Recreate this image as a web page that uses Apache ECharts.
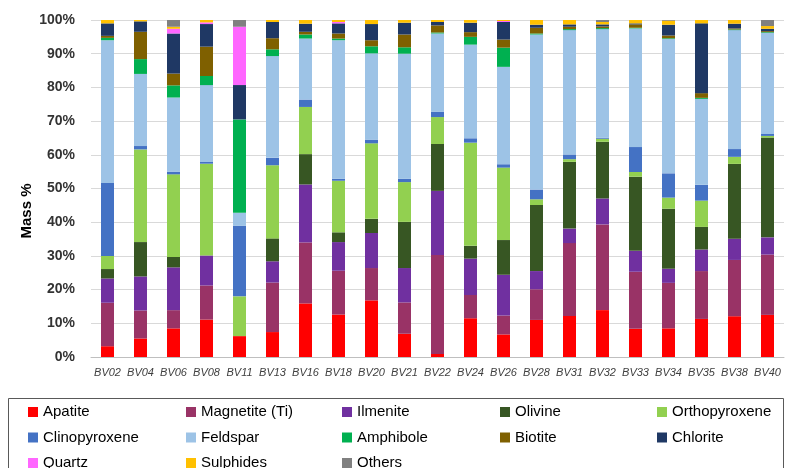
<!DOCTYPE html>
<html>
<head>
<meta charset="utf-8">
<script src="https://cdn.jsdelivr.net/npm/echarts@6/dist/echarts.min.js"></script>
<style>
  html, body { margin: 0; padding: 0; background: #fff; }
  #chart { width: 789px; height: 468px; }
</style>
</head>
<body>
<div id="chart"></div>
<script>
// Sample names
const samples = ['BV02','BV04','BV06','BV08','BV11','BV13','BV16','BV18','BV20','BV21','BV22',
                 'BV24','BV26','BV28','BV31','BV32','BV33','BV34','BV35','BV38','BV40'];

// Mass % per mineral, one value per sample
const apatite    = [3.2, 5.5, 8.5, 11.1, 6.2, 7.4, 15.9, 12.6, 16.8, 6.9, 0.9, 11.5, 6.7, 11.0, 12.2, 13.9, 8.4, 8.5, 11.3, 12.1, 12.5];
const magnetite  = [12.9, 8.3, 5.4, 10.1, 0, 14.7, 18.1, 13.0, 9.6, 9.3, 29.4, 6.9, 5.6, 9.1, 21.6, 25.4, 16.9, 13.5, 14.2, 16.7, 17.9];
const ilmenite   = [7.2, 10.1, 12.7, 8.9, 0, 6.3, 17.2, 8.5, 10.4, 10.2, 19.0, 10.8, 12.1, 5.4, 4.3, 7.7, 6.2, 4.2, 6.4, 6.3, 5.1];
const olivine    = [2.8, 10.2, 3.1, 0, 0, 6.8, 9.0, 2.9, 4.2, 13.7, 13.9, 3.8, 10.3, 19.6, 19.8, 16.8, 22.0, 17.8, 6.7, 22.2, 29.6];
const orthopyrox = [3.9, 27.5, 24.5, 27.2, 11.8, 21.7, 14.0, 15.3, 22.4, 11.8, 8.0, 30.6, 21.5, 1.7, 0.8, 0.9, 1.4, 3.3, 7.8, 2.1, 0.5];
const clinopyrox = [21.6, 1.0, 0.8, 0.5, 20.9, 2.2, 2.2, 0.6, 1.1, 1.0, 1.6, 1.3, 1.0, 2.9, 1.4, 0.3, 7.4, 7.2, 4.7, 2.3, 0.6];
const feldspar   = [42.4, 21.4, 22.0, 22.8, 3.9, 30.2, 18.1, 41.1, 25.6, 37.1, 23.2, 27.8, 28.9, 46.0, 36.9, 32.2, 35.2, 39.9, 25.5, 35.3, 30.0];
const amphibole  = [0.7, 4.4, 3.6, 2.7, 27.7, 2.0, 1.2, 0.5, 2.1, 1.9, 0.3, 2.3, 5.7, 0.3, 0.3, 0.3, 0.2, 0.2, 0.3, 0.2, 0.2];
const biotite    = [0.6, 8.1, 3.5, 8.7, 0, 3.3, 0.8, 1.5, 1.8, 3.8, 2.1, 1.4, 2.4, 1.7, 0.7, 0.5, 1.0, 0.8, 1.4, 0.3, 0.3];
const chlorite   = [3.7, 3.1, 11.9, 6.7, 10.2, 4.8, 2.4, 3.0, 4.8, 3.5, 1.0, 2.8, 5.2, 0.9, 0.7, 0.6, 0.3, 3.2, 20.7, 1.4, 0.7];
const quartz     = [0, 0, 1.4, 0.5, 17.3, 0, 0, 0.4, 0, 0, 0, 0, 0.3, 0, 0, 0, 0, 0, 0, 0, 0];
const sulphides  = [1.0, 0.4, 0.6, 0.7, 0, 0.6, 1.1, 0.6, 1.2, 0.8, 0.6, 0.8, 0.3, 1.4, 1.3, 0.7, 1.0, 1.2, 1.0, 1.1, 0.8];
const others     = [0, 0, 2.0, 0, 2.0, 0, 0, 0, 0, 0, 0, 0, 0, 0, 0, 0.6, 0, 0.2, 0, 0, 1.8];

const yTicks = [0, 10, 20, 30, 40, 50, 60, 70, 80, 90, 100];

const minerals = [
  { name: 'Apatite',        data: apatite,    color: '#FF0000' },
  { name: 'Magnetite (Ti)', data: magnetite,  color: '#993366' },
  { name: 'Ilmenite',       data: ilmenite,   color: '#7030A0' },
  { name: 'Olivine',        data: olivine,    color: '#375623' },
  { name: 'Orthopyroxene',  data: orthopyrox, color: '#92D050' },
  { name: 'Clinopyroxene',  data: clinopyrox, color: '#4472C4' },
  { name: 'Feldspar',       data: feldspar,   color: '#9DC3E6' },
  { name: 'Amphibole',      data: amphibole,  color: '#00B050' },
  { name: 'Biotite',        data: biotite,    color: '#7F6000' },
  { name: 'Chlorite',       data: chlorite,   color: '#1F3864' },
  { name: 'Quartz',         data: quartz,     color: '#FF66FF' },
  { name: 'Sulphides',      data: sulphides,  color: '#FFC000' },
  { name: 'Others',         data: others,     color: '#808080' }
];

// 100% stacking: scale each sample so its column sums to 100
const totals = samples.map((_, i) => minerals.reduce((s, m) => s + m.data[i], 0));

const series = minerals.map(m => ({
  name: m.name,
  type: 'bar',
  stack: 'mass',
  barWidth: 13,
  itemStyle: { color: m.color },
  emphasis: { disabled: true },
  data: m.data.map((v, i) => v / totals[i] * 100)
}));

// Legend laid out as a 5-column table inside a framed box: one legend per entry
const legendFont = { fontFamily: 'Liberation Sans', fontSize: 15, lineHeight: 16, color: '#000' };
const colX = [28, 186, 342, 500, 657];
const rowY = [412, 437.5, 463];
const legends = minerals.map((m, k) => ({
  left: colX[k % 5],
  top: rowY[Math.floor(k / 5)] - 8,
  padding: 0,
  itemWidth: 10,
  itemHeight: 10,
  itemGap: 4,
  icon: 'rect',
  selectedMode: false,
  textStyle: legendFont,
  data: [m.name]
}));

const chart = echarts.init(document.getElementById('chart'), null, { renderer: 'canvas' });
chart.setOption({
  animation: false,
  backgroundColor: '#fff',
  grid: { left: 91, right: 5, top: 20, bottom: 111, containLabel: false },
  xAxis: {
    type: 'category',
    data: samples,
    axisTick: { show: false },
    axisLine: { lineStyle: { color: '#bfbfbf', width: 1 } },
    axisLabel: {
      margin: 10,
      fontFamily: 'Liberation Sans',
      fontStyle: 'italic',
      fontSize: 11,
      color: '#404040',
      interval: 0
    }
  },
  yAxis: {
    type: 'value',
    min: yTicks[0],
    max: yTicks[yTicks.length - 1],
    interval: yTicks[1] - yTicks[0],
    axisLine: { show: false },
    axisTick: { show: false },
    splitLine: { lineStyle: { color: '#d9d9d9', width: 1 } },
    axisLabel: {
      margin: 16,
      formatter: '{value}%',
      fontFamily: 'Liberation Sans',
      fontWeight: 'bold',
      fontSize: 14,
      color: '#333'
    }
  },
  legend: legends,
  graphic: [
    {
      type: 'text',
      x: 27, y: 211,
      rotation: Math.PI / 2,
      style: {
        text: 'Mass %',
        fontFamily: 'Liberation Sans',
        fontWeight: 'bold',
        fontSize: 15,
        fill: '#000',
        align: 'center',
        verticalAlign: 'middle'
      }
    },
    {
      type: 'rect',
      shape: { x: 8.5, y: 398.5, width: 775, height: 80 },
      style: { fill: 'none', stroke: '#595959', lineWidth: 1 },
      silent: true,
      z: -1
    }
  ],
  series: series
});
</script>
</body>
</html>
